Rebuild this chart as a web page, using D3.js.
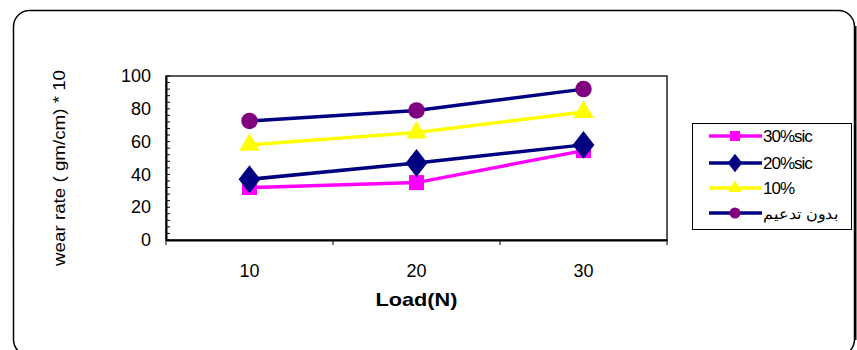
<!DOCTYPE html>
<html>
<head>
<meta charset="utf-8">
<script src="https://cdn.jsdelivr.net/npm/d3@7"></script>
<style>
  body { margin: 0; background: #fff; }
  svg text { font-family: "Liberation Sans", Arial, sans-serif; }
</style>
</head>
<body>
<div id="chart"></div>
<script>
const loads = ["10", "20", "30"];
const yTicks = [0, 20, 40, 60, 80, 100];

const sic30 = [32, 35, 54.5];
const sic20 = [37, 47, 58];
const pct10 = [58, 65.5, 78];
const noReinf = [72.6, 79, 92];

const series = [
  { name: "30%sic", values: sic30, line: "#ff00ff", fill: "#ff00ff", shape: "square" },
  { name: "20%sic", values: sic20, line: "#000080", fill: "#000080", shape: "diamond" },
  { name: "10%", values: pct10, line: "#ffff00", fill: "#ffff00", shape: "triangle" },
  { name: "بدون تدعيم", values: noReinf, line: "#000080", fill: "#800080", shape: "circle" }
];

const W = 857, H = 350;
const margin = { top: 76, right: 190, bottom: 110, left: 166 };
const width = 667 - margin.left;
const height = 240 - margin.top;

const svg = d3.select("#chart").append("svg")
  .attr("width", W)
  .attr("height", H);

// outer rounded frame
svg.append("rect")
  .attr("x", 13.5).attr("y", 10.5)
  .attr("width", 841).attr("height", 345)
  .attr("rx", 16)
  .attr("fill", "#fff")
  .attr("stroke", "#000")
  .attr("stroke-width", 1.5);
svg.append("line")
  .attr("x1", 855.5).attr("x2", 855.5)
  .attr("y1", 26).attr("y2", 340)
  .attr("stroke", "#000").attr("stroke-width", 2);

const g = svg.append("g")
  .attr("transform", `translate(${margin.left},${margin.top})`);

const x = d3.scaleBand().domain(loads).range([0, width]);
const y = d3.scaleLinear().domain([0, 100]).range([height, 0]);

// plot frame
g.append("rect")
  .attr("width", width).attr("height", height)
  .attr("fill", "#fff")
  .attr("stroke", "#222")
  .attr("stroke-width", 1.5);

// y axis: major + minor ticks pointing inward
const yAxis = g.append("g")
  .call(d3.axisLeft(y).tickValues(yTicks).tickSize(0).tickPadding(15));
yAxis.select(".domain").attr("stroke", "#000").attr("stroke-width", 2);
yAxis.selectAll("text")
  .attr("font-size", 18)
  .attr("fill", "#000");

g.append("g").selectAll("line")
  .data(d3.range(0, 101, 4))
  .join("line")
  .attr("x1", 0).attr("x2", 4)
  .attr("y1", d => y(d)).attr("y2", d => y(d))
  .attr("stroke", "#000").attr("stroke-width", 1);

// x axis
const xAxis = g.append("g")
  .attr("transform", `translate(0,${height})`)
  .call(d3.axisBottom(x).tickSize(0).tickPadding(24));
xAxis.select(".domain").attr("stroke", "#000").attr("stroke-width", 2);
xAxis.selectAll("text")
  .attr("font-size", 18)
  .attr("fill", "#000");

g.append("g").selectAll("line")
  .data(d3.range(0, loads.length + 1))
  .join("line")
  .attr("x1", i => i * x.step()).attr("x2", i => i * x.step())
  .attr("y1", height).attr("y2", height + 5)
  .attr("stroke", "#000").attr("stroke-width", 1);

// axis titles
svg.append("text")
  .attr("transform", `translate(65,168) rotate(-90)`)
  .attr("text-anchor", "middle")
  .attr("font-size", 16)
  .attr("textLength", 196)
  .attr("lengthAdjust", "spacingAndGlyphs")
  .text("wear rate ( gm/cm) * 10");

svg.append("text")
  .attr("x", margin.left + width / 2)
  .attr("y", 306)
  .attr("text-anchor", "middle")
  .attr("font-size", 19)
  .attr("font-weight", "bold")
  .attr("textLength", 82)
  .attr("lengthAdjust", "spacingAndGlyphs")
  .text("Load(N)");

// markers
function marker(sel, shape, fill, s) {
  if (shape === "circle") {
    sel.append("circle").attr("r", s * 0.55).attr("fill", fill);
  } else {
    const sym = { square: d3.symbolSquare, diamond: d3.symbolDiamond, triangle: d3.symbolTriangle }[shape];
    const size = { square: s * s, diamond: s * s * 1.0, triangle: s * s * 0.8 }[shape];
    sel.append("path")
      .attr("d", d3.symbol(sym, size)())
      .attr("transform", shape === "diamond" ? "scale(1.35,1)" : null)
      .attr("fill", fill);
  }
}

const line = d3.line()
  .x((d, i) => x(loads[i]) + x.bandwidth() / 2)
  .y(d => y(d));

series.forEach(s => {
  g.append("path")
    .datum(s.values)
    .attr("fill", "none")
    .attr("stroke", s.line)
    .attr("stroke-width", 3.5)
    .attr("d", line);
});

series.forEach(s => {
  s.values.forEach((v, i) => {
    const m = g.append("g")
      .attr("transform", `translate(${x(loads[i]) + x.bandwidth() / 2},${y(v)})`);
    marker(m, s.shape, s.fill, 15);
  });
});

// legend
const legend = svg.append("g").attr("transform", "translate(692,123)");
legend.append("rect")
  .attr("x", 0.5).attr("y", 0.5)
  .attr("width", 159).attr("height", 106)
  .attr("fill", "#fff")
  .attr("stroke", "#000")
  .attr("stroke-width", 1);

const rows = [13, 40, 65, 90];
series.forEach((s, i) => {
  const r = legend.append("g").attr("transform", `translate(0,${rows[i]})`);
  r.append("line")
    .attr("x1", 17).attr("x2", 70)
    .attr("stroke", s.line)
    .attr("stroke-width", 3.5);
  const m = r.append("g").attr("transform", "translate(43,0)");
  marker(m, s.shape, s.fill, 10);
  const t = r.append("text")
    .attr("x", i === 3 ? 146 : 71)
    .attr("y", 6)
    .attr("text-anchor", i === 3 ? "end" : "start")
    .attr("font-size", i === 3 ? 15 : 17)
    .attr("letter-spacing", i === 3 ? 0 : -1)
    .text(s.name);
  if (i === 3) t.attr("textLength", 75).attr("lengthAdjust", "spacingAndGlyphs");
});
</script>
</body>
</html>
